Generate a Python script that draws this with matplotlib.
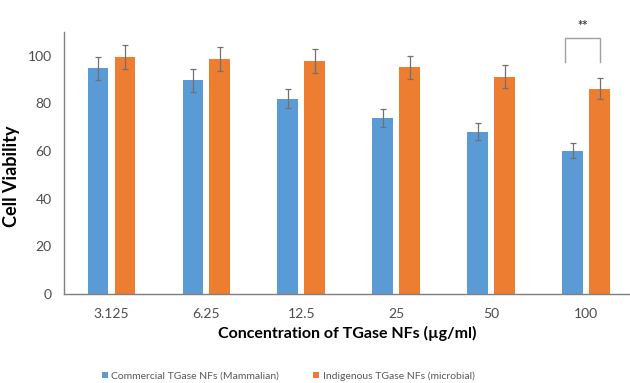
import matplotlib.pyplot as plt
import numpy as np

concentrations = ["3.125", "6.25", "12.5", "25", "50", "100"]
commercial = [94.7, 89.8, 82.0, 74.0, 68.2, 60.1]
commercial_err = [4.7, 4.8, 4.0, 3.8, 3.6, 3.1]
indigenous = [99.6, 98.7, 97.9, 95.1, 91.3, 86.2]
indigenous_err = [5.0, 5.0, 5.0, 5.0, 4.9, 4.3]

plt.rcParams['font.family'] = ['Lato', 'DejaVu Sans']

fig = plt.figure(figsize=(6.3, 3.83), dpi=100)
ax = fig.add_axes([64 / 630, 89 / 383, 566 / 630, 262 / 383])

x = np.arange(len(concentrations))
w = 0.22
off = 0.142
err_kw = dict(ecolor="#707070", elinewidth=0.9, capsize=2.5, capthick=0.9)
b1 = ax.bar(x - off, commercial, w, yerr=commercial_err, color="#5B9BD5",
            error_kw=err_kw, label="Commercial TGase NFs (Mammalian)")
b2 = ax.bar(x + off, indigenous, w, yerr=indigenous_err, color="#ED7D31",
            error_kw=err_kw, label="Indigenous TGase NFs (microbial)")

ax.set_xlim(-0.5, 5.46)
ax.set_ylim(0, 110)
ax.set_yticks([0, 20, 40, 60, 80, 100])
ax.set_xticks(x)
ax.set_xticklabels(concentrations)
ax.tick_params(length=0, labelsize=10, colors="#4d4d4d", pad=10)
ax.tick_params(axis="y", pad=9)
for s in ["top", "right"]:
    ax.spines[s].set_visible(False)
for s in ["left", "bottom"]:
    ax.spines[s].set_color("#7f7f7f")
    ax.spines[s].set_linewidth(1.0)

ax.set_ylabel("Cell Viability", fontsize=13, fontweight="bold")
ax.yaxis.set_label_coords(-0.078, 0.45)
ax.set_xlabel("Concentration of TGase NFs (µg/ml)", fontsize=11.5,
              fontweight="bold", labelpad=4)

# significance bracket
i = 5
left = x[i] - off - 0.08
right = x[i] + off
ax.plot([left, left, right, right], [97.6, 107.4, 107.4, 97.6],
        color="#a0a0a0", lw=1.0, clip_on=False)
ax.text((left + right) / 2, 112.5, "**", ha="center", va="center",
        fontsize=9, fontweight="bold", color="#404040", clip_on=False)

fig.legend(handles=[b1, b2], loc="center", bbox_to_anchor=(288 / 630, 7 / 383),
           ncol=2, frameon=False, fontsize=7.5, labelcolor="#595959",
           handlelength=0.6, handleheight=0.6, handletextpad=0.3,
           columnspacing=3.3)

fig.savefig("out.png", dpi=100)
